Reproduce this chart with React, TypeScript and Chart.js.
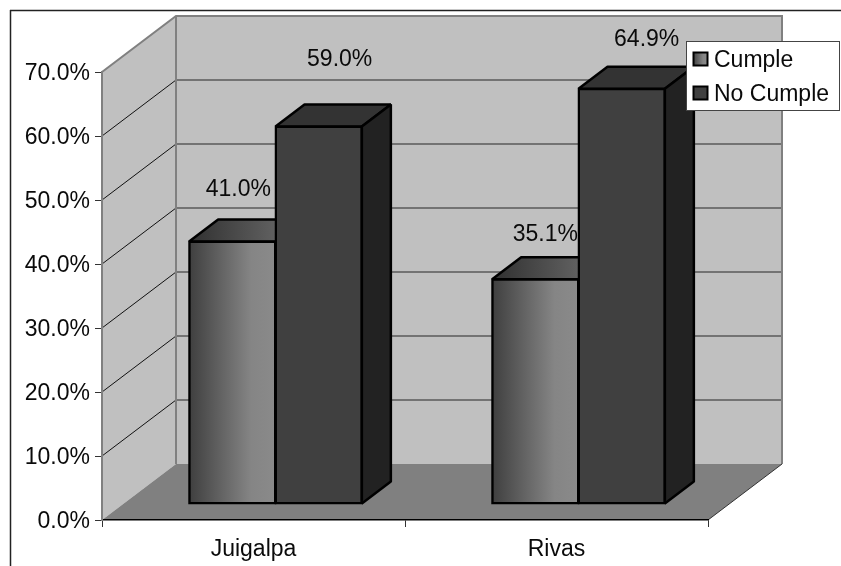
import React, { useEffect, useRef } from "react";
import { Chart, registerables } from "chart.js";

Chart.register(...registerables);

const categories = ["Juigalpa", "Rivas"];
const cumple = [41.0, 35.1];
const noCumple = [59.0, 64.9];
const valueTicks = [0, 10, 20, 30, 40, 50, 60, 70];

const FONT_FAMILY = '"Liberation Sans", Arial, sans-serif';
const FONT_SIZE = 23;
const FONT = `${FONT_SIZE}px ${FONT_FAMILY}`;
const INK = "#0a0a0a";

// Projection of the box: how far the back wall sits from the front plane.
const BOX_DX = 74;
const BOX_DY = 56;
// Bars stand on the floor, set back from the front edge, with their own depth.
const BAR_DX = 22;
const BAR_DY = 16;
const BAR_DEPTH_X = 29;
const BAR_DEPTH_Y = 22;
const BAR_EDGE = 2.5;

// Data labels are hand-placed relative to the top middle of each bar's front face.
const labelNudges = [
  [[6, -52], [10, -45]],
  [[21, -67], [25, -49]],
];

const poly = (ctx: CanvasRenderingContext2D, pts: number[][]) => {
  ctx.beginPath();
  pts.forEach(([x, y], i) => (i ? ctx.lineTo(x, y) : ctx.moveTo(x, y)));
  ctx.closePath();
};

const line = (ctx: CanvasRenderingContext2D, x0: number, y0: number, x1: number, y1: number, color: string, width: number) => {
  ctx.strokeStyle = color;
  ctx.lineWidth = width;
  ctx.beginPath();
  ctx.moveTo(x0, y0);
  ctx.lineTo(x1, y1);
  ctx.stroke();
};

const horizontalGradient = (ctx: CanvasRenderingContext2D, x0: number, x1: number, stops: [number, string][]) => {
  const g = ctx.createLinearGradient(x0, 0, x1, 0);
  stops.forEach(([o, c]) => g.addColorStop(o, c));
  return g;
};

const FRONT_STOPS: [number, string][] = [[0, "#3f3f3f"], [0.72, "#858585"], [1, "#8a8a8a"]];
const TOP_STOPS: [number, string][] = [[0, "#303030"], [1, "#606060"]];

const box3d = {
  id: "box3d",
  // Frame, walls, floor and the gridlines that run across them.
  beforeDraw(chart: any) {
    const { ctx, chartArea: a, scales } = chart;
    const y = scales.y;
    const left = a.left;
    const right = a.right;
    const base = y.getPixelForValue(0);
    const top = y.getPixelForValue(70);
    ctx.save();

    ctx.fillStyle = "#ffffff";
    ctx.fillRect(0, 0, chart.width, chart.height);
    line(ctx, 10.5, 10, 10.5, chart.height, "#222222", 1.5);
    line(ctx, 10, 10.5, chart.width, 10.5, "#222222", 1.5);

    // side wall and back wall
    ctx.fillStyle = "#c0c0c0";
    poly(ctx, [[left, base], [left, top], [left + BOX_DX, top - BOX_DY], [left + BOX_DX, base - BOX_DY]]);
    ctx.fill();
    poly(ctx, [[left + BOX_DX, top - BOX_DY], [right + BOX_DX, top - BOX_DY], [right + BOX_DX, base - BOX_DY], [left + BOX_DX, base - BOX_DY]]);
    ctx.fill();

    // gridlines: thin on the side wall, heavier on the back wall
    valueTicks.slice(1, -1).forEach((v) => {
      const py = y.getPixelForValue(v);
      line(ctx, left, py, left + BOX_DX, py - BOX_DY, "#111111", 1);
      line(ctx, left + BOX_DX, py - BOX_DY, right + BOX_DX, py - BOX_DY, "#5a5a5a", 1.5);
    });

    // wall outlines
    ctx.strokeStyle = "#808080";
    ctx.lineWidth = 2;
    ctx.lineJoin = "miter";
    ctx.beginPath();
    ctx.moveTo(left, top);
    ctx.lineTo(left + BOX_DX, top - BOX_DY);
    ctx.lineTo(right + BOX_DX, top - BOX_DY);
    ctx.lineTo(right + BOX_DX, base - BOX_DY);
    ctx.moveTo(left + BOX_DX, top - BOX_DY);
    ctx.lineTo(left + BOX_DX, base - BOX_DY);
    ctx.stroke();

    // floor
    ctx.fillStyle = "#808080";
    poly(ctx, [[left, base], [right, base], [right + BOX_DX, base - BOX_DY], [left + BOX_DX, base - BOX_DY]]);
    ctx.fill();
    line(ctx, right, base, right + BOX_DX, base - BOX_DY, "#333333", 1);
    ctx.restore();
  },

  // Top and side faces go down first; the front faces from the datasets cover them.
  beforeDatasetsDraw(chart: any) {
    const { ctx } = chart;
    ctx.save();
    ctx.translate(BAR_DX, -BAR_DY);
    ctx.strokeStyle = "#000000";
    ctx.lineWidth = BAR_EDGE;
    ctx.lineJoin = "bevel";
    chart.data.datasets.forEach((_: any, di: number) => {
      chart.getDatasetMeta(di).data.forEach((bar: any) => {
        const l = bar.x - bar.width / 2;
        const r = bar.x + bar.width / 2;
        const t = bar.y;
        const b = bar.base;
        poly(ctx, [[l, t], [l + BAR_DEPTH_X, t - BAR_DEPTH_Y], [r + BAR_DEPTH_X, t - BAR_DEPTH_Y], [r, t]]);
        ctx.fillStyle = di === 0 ? horizontalGradient(ctx, l, r, TOP_STOPS) : "#333333";
        ctx.fill();
        ctx.stroke();
        if (di === 1) {
          poly(ctx, [[r, t], [r + BAR_DEPTH_X, t - BAR_DEPTH_Y], [r + BAR_DEPTH_X, b - BAR_DEPTH_Y], [r, b]]);
          ctx.fillStyle = "#222222";
          ctx.fill();
          ctx.stroke();
        }
      });
    });
  },

  afterDatasetsDraw(chart: any) {
    const { ctx } = chart;
    ctx.restore();
    ctx.save();
    ctx.font = FONT;
    ctx.fillStyle = INK;
    ctx.textAlign = "center";
    ctx.textBaseline = "middle";
    chart.data.datasets.forEach((ds: any, di: number) => {
      chart.getDatasetMeta(di).data.forEach((bar: any, i: number) => {
        const [nx, ny] = labelNudges[di][i];
        ctx.fillText(`${ds.data[i].toFixed(1)}%`, bar.x + BAR_DX + nx, bar.y - BAR_DY + ny);
      });
    });
    ctx.restore();
  },

  // Boxed legend laid over the upper right corner.
  afterDraw(chart: any) {
    const { ctx } = chart;
    ctx.save();
    ctx.fillStyle = "#ffffff";
    ctx.fillRect(686.5, 41.5, 153, 69);
    ctx.strokeStyle = "#444444";
    ctx.lineWidth = 1;
    ctx.strokeRect(686.5, 41.5, 153, 69);
    ctx.font = FONT;
    ctx.textAlign = "left";
    ctx.textBaseline = "middle";
    chart.data.datasets.forEach((ds: any, di: number) => {
      const cy = 59 + di * 34;
      ctx.fillStyle = di === 0 ? horizontalGradient(ctx, 693, 707, FRONT_STOPS) : "#404040";
      ctx.fillRect(693.5, cy - 6.5, 14, 13);
      ctx.strokeStyle = "#000000";
      ctx.lineWidth = 2;
      ctx.strokeRect(693.5, cy - 6.5, 14, 13);
      ctx.fillStyle = INK;
      ctx.fillText(ds.label, 714, cy + 2);
    });
    ctx.restore();
  },
};

const BAND_SHARE = 0.57;

export default function App() {
  const ref = useRef<HTMLCanvasElement>(null);

  useEffect(() => {
    const chart = new Chart(ref.current as HTMLCanvasElement, {
      type: "bar",
      data: {
        labels: categories,
        datasets: [
          {
            label: "Cumple",
            data: cumple,
            backgroundColor: (c: any) => {
              const x = c.chart.scales.x;
              const mid = x && c.dataIndex !== undefined ? x.getPixelForValue(c.dataIndex) : NaN;
              const band = x ? x.width / categories.length : NaN;
              if (!Number.isFinite(mid) || !Number.isFinite(band)) return "#808080";
              return horizontalGradient(c.chart.ctx, mid - (band * BAND_SHARE) / 2, mid, FRONT_STOPS);
            },
            borderColor: "#000000",
            borderWidth: BAR_EDGE,
            borderSkipped: false,
            inflateAmount: 1,
            clip: false,
          },
          {
            label: "No Cumple",
            data: noCumple,
            backgroundColor: "#404040",
            borderColor: "#000000",
            borderWidth: BAR_EDGE,
            borderSkipped: false,
            inflateAmount: 1,
            clip: false,
          },
        ],
      } as any,
      options: {
        responsive: false,
        animation: false,
        events: [],
        datasets: { bar: { categoryPercentage: BAND_SHARE, barPercentage: 1 } },
        layout: { padding: { left: 0, top: 72, right: 133, bottom: 0 } },
        plugins: { legend: { display: false }, tooltip: { enabled: false } },
        scales: {
          x: {
            afterFit: (s: any) => {
              s.height = 46;
            },
            grid: { drawOnChartArea: false, tickLength: 7, tickColor: "#333333", lineWidth: 1 },
            border: { color: "#000000", width: 1.5 },
            ticks: { color: INK, padding: 9, font: { family: FONT_FAMILY, size: FONT_SIZE }, maxRotation: 0 },
          },
          y: {
            min: 0,
            max: 70,
            afterFit: (s: any) => {
              s.width = 102;
            },
            afterBuildTicks: (s: any) => {
              s.ticks = valueTicks.map((value) => ({ value }));
            },
            grid: { drawOnChartArea: false, tickLength: 7, tickColor: "#333333", lineWidth: 1 },
            border: { color: "#808080", width: 2 },
            ticks: {
              color: INK,
              padding: 5,
              labelOffset: 2,
              font: { family: FONT_FAMILY, size: FONT_SIZE },
              callback: (v: any) => `${Number(v).toFixed(1)}%`,
            },
          },
        },
      } as any,
      plugins: [box3d],
    });
    return () => chart.destroy();
  }, []);

  return (
    <div style={{ position: "fixed", left: 0, top: 0, width: 841, height: 566, background: "#ffffff" }}>
      <canvas ref={ref} width={841} height={566} style={{ display: "block" }} />
    </div>
  );
}
